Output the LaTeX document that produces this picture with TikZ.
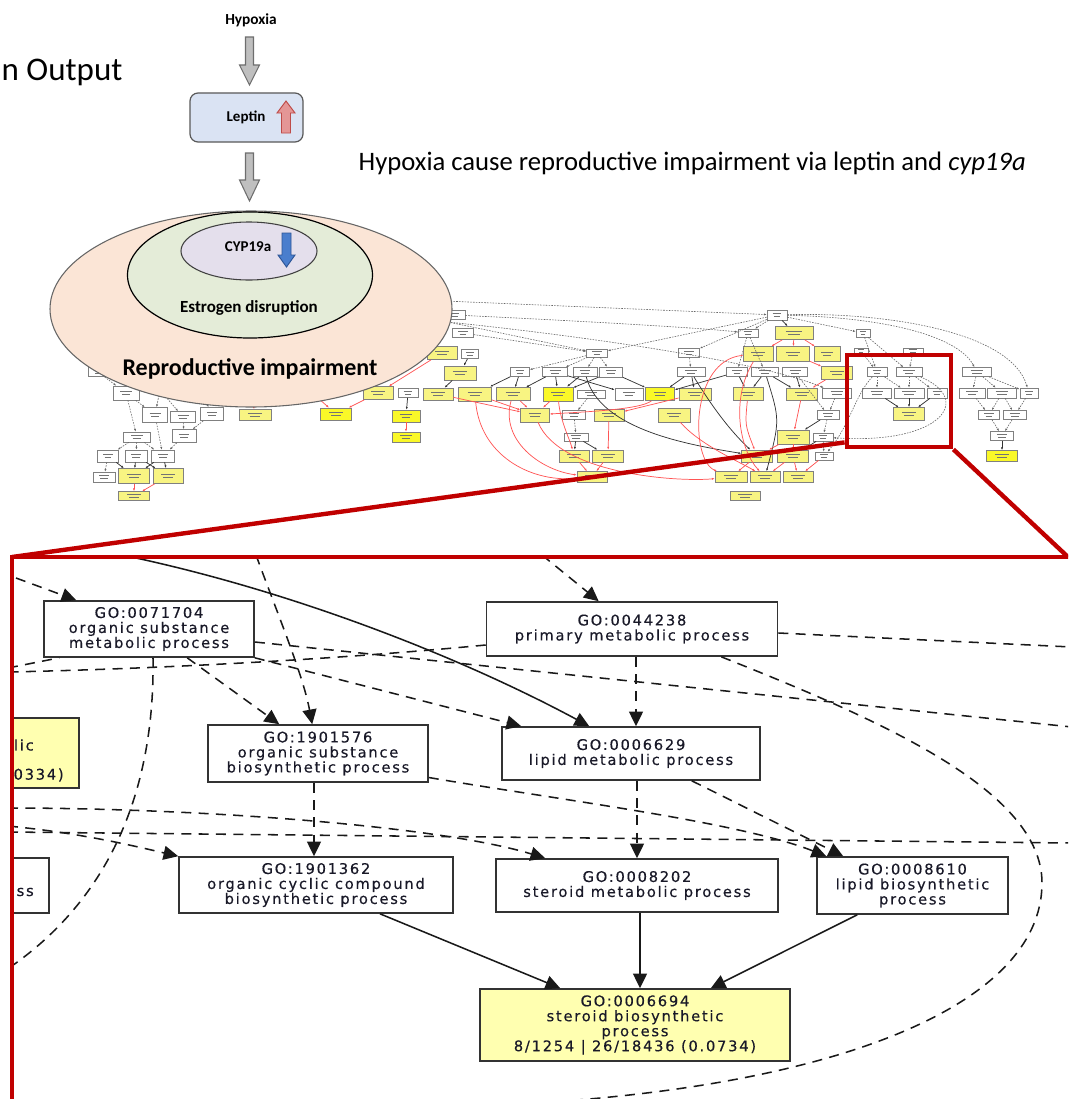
\documentclass[tikz,border=0pt]{standalone}
\usepackage{fontspec}
\setmainfont{Carlito}
\newfontfamily\gofont[LetterSpace=12,FakeBold=0.35]{DejaVu Sans}
\usetikzlibrary{arrows.meta,shapes.geometric,calc}
\definecolor{tyel}{RGB}{248,244,130}
\definecolor{tyel2}{RGB}{250,248,40}
\definecolor{goyel}{RGB}{255,255,176}
\definecolor{gotxt}{RGB}{25,25,40}
\definecolor{boxred}{RGB}{192,0,0}
\definecolor{tredc}{RGB}{255,85,85}
\definecolor{peach}{RGB}{251,229,214}
\definecolor{sage}{RGB}{228,236,216}
\definecolor{lav}{RGB}{228,223,236}
\definecolor{lepfill}{RGB}{218,227,243}
\definecolor{garfill}{RGB}{191,191,191}
\definecolor{garline}{RGB}{110,110,110}
\definecolor{upfill}{RGB}{228,150,150}
\definecolor{upline}{RGB}{190,75,72}
\definecolor{dnfill}{RGB}{74,126,205}
\definecolor{dnline}{RGB}{45,85,150}
\begin{document}
\begin{tikzpicture}[x=0.75pt,y=-0.75pt,
  tbox/.style={draw=black!50, line width=0.55pt, fill=#1, inner sep=0pt, align=center, font=\fontsize{2}{2.4}\selectfont},
  ttip/.style={-{Latex[length=2pt,width=1.6pt]}},
  tdot/.style={draw=black!60, line width=0.45pt, dash pattern=on 1.2pt off 0.9pt, ttip},
  tblk/.style={draw=black!80, line width=0.55pt, ttip},
  tred/.style={draw=tredc, line width=0.55pt, ttip},
  gobox/.style={draw=black!80, line width=1.2pt, fill=#1, inner sep=0pt, align=center, text=gotxt, font=\gofont\fontsize{11}{11.25}\selectfont},
  gotext/.style={text=gotxt, font=\gofont\fontsize{11}{11.25}\selectfont, inner sep=0pt},
  goline/.style={draw=black!90, line width=1.15pt},
  godash/.style={goline, dash pattern=on 7.5pt off 5.5pt},
  goarr/.style={-{Triangle[length=11pt,width=10.5pt]}},
  redframe/.style={draw=boxred, line width=3.3pt, line join=miter},
  garrow/.style={fill=garfill, draw=garline, line width=0.8pt},
  bigell/.style={ellipse, inner sep=0pt}
]
\useasboundingbox (0,0) rectangle (1068,1099);
\clip (0,0) rectangle (1068,1099);

% ---------------- thumbnail GO graph ----------------
\foreach \x/\y/\w/\h/\c [count=\i] in {
 98/372/20/9/white, 126/393/26/14/white, 155/415/25/15/white, 183/417/25/11/white, 212/414/23/13/white,
 255/415/32/11/tyel, 336/414/31/12/tyel2, 378/393/30/13/tyel, 408/393/20/9/white, 406/416/28/12/tyel2,
 406/437/28/10/tyel2, 137/437/27/10/white, 184/436/24/13/white, 108/456/21/12/white, 136/456/22/12/white,
 163/456/23/12/white, 104/477/22/10/white, 134/476/31/15/tyel, 168/476/30/15/tyel, 134/496/31/9/tyel,
 455/315/20/9/white, 463/333/21/9/white, 442/353/30/13/tyel, 470/354/17/9/white, 460/373/32/14/tyel,
 438/394/30/12/tyel, 475/394/33/14/tyel, 513/394/34/13/tyel, 558/394/30/14/tyel2, 591/394/28/8/white,
 629/394/28/12/white, 660/394/29/13/tyel2, 695/394/32/12/tyel, 748/394/30/13/tyel, 802/394/31/12/tyel,
 837/393/29/10/white, 520/372/19/9/white, 555/372/25/9/white, 585/372/24/9/white, 611/372/23/10/white,
 691/372/28/9/white, 737/372/21/9/white, 765/372/27/9/white, 795/372/25/9/white, 837/373/31/13/tyel,
 597/353/21/8/white, 689/353/21/9/white, 758/354/30/15/tyel, 793/354/33/15/tyel, 827/354/26/15/tyel,
 748/333/20/8/white, 794/333/38/13/tyel, 863/333/14/8/white, 777/315/20/10/white, 535/415/29/14/tyel,
 574/415/23/9/white, 609/415/30/12/tyel, 674/415/32/14/tyel, 828/415/22/9/white, 576/437/24/8/white,
 793/437/32/14/tyel, 823/437/20/8/white, 574/456/30/12/tyel, 608/456/31/12/tyel, 757/456/31/12/tyel,
 793/456/31/12/tyel, 824/456/18/8/white, 592/477/30/11/tyel, 731/477/32/11/tyel, 765/477/30/11/tyel,
 798/477/30/11/tyel, 745/496/30/9/tyel, 861/351/14/5/white, 913/351/20/5/white, 877/372/20/9/white,
 909/372/26/9/white, 877/393/29/10/white, 909/393/30/10/white, 937/393/20/10/white, 909/414/31/13/tyel,
 977/372/29/9/white, 972/393/26/10/white, 1002/393/29/10/white, 1029/393/18/10/white, 989/415/21/9/white,
 1015/415/23/9/white, 1002/436/23/9/white, 1002/456/31/11/tyel2}
{
 \node[tbox=\c, minimum width=\w*0.75pt, minimum height=\h*0.75pt] (t\i) at (\x,\y)
   {\textcolor{black!55}{\rule{\w\dimexpr0.33pt\relax}{0.8pt}}\\\textcolor{black!55}{\rule{\w\dimexpr0.24pt\relax}{0.8pt}}};
}
\coordinate (cT1) at (445,301);
\coordinate (cT2) at (448,322);
\coordinate (cT5) at (160,390);
\coordinate (cT6) at (205,400);
\coordinate (cT7) at (318,398);
\coordinate (cT8) at (253,402);

\foreach \a/\b in {54/46,54/47,54/51,54/53,47/41,51/42,51/43,46/37,46/38,46/39,46/40,22/46,
  53/75,53/76,73/75,74/76,75/77,75/78,76/78,76/79,81/82,81/83,81/84,82/85,83/85,83/86,84/86,85/87,86/87,
  30/56,56/60,44/59,59/62,62/67,1/2,2/3,2/12,3/16,4/13,5/13,12/14,12/15,12/16,13/16,14/17,36/59}
  \draw[tdot] (t\a) -- (t\b);
\draw[tdot] (cT1) -- (t54);
\draw[tdot] (cT2) -- (t46);
\draw[tdot] (cT5) -- (t3);
\draw[tdot] (cT5) -- (t4);
\draw[tdot] (cT6) -- (t5);
\draw[tdot] (t54) .. controls (900,318) and (960,340) .. (t81);
\draw[tdot] (t54) .. controls (880,312) and (1010,330) .. (t84);
\draw[tdot] (t21) .. controls (600,322) and (700,328) .. (t51);
\draw[tdot] (cT2) .. controls (600,338) and (760,362) .. (t36);
\draw[tdot] (t76) .. controls (975,400) and (940,445) .. (t62);
\draw[tdot] (t75) .. controls (855,395) and (850,425) .. (t67);

\foreach \a/\b in {54/52,24/25,25/26,37/27,37/28,38/28,38/29,39/29,40/29,40/32,41/33,41/32,42/34,43/34,43/35,44/35,
  60/63,60/64,59/61,62/66,77/80,78/80,79/80,87/88,14/18,15/18,16/18,16/19,15/19,9/10,38/31,42/32}
  \draw[tblk] (t\a) -- (t\b);
\draw[tblk] (t39) .. controls (600,430) and (690,445) .. (t65);
\draw[tblk] (t43) .. controls (780,420) .. (t70);
\draw[tblk] (t41) .. controls (720,420) and (740,440) .. (t65);

\foreach \a/\b in {52/48,52/49,52/50,49/45,45/35,35/61,23/8,8/7,10/11,26/55,27/55,28/55,29/55,33/57,57/64,
  63/68,64/68,61/65,61/66,65/69,66/70,66/71,67/71,18/20,19/20}
  \draw[tred] (t\a) -- (t\b);
\draw[tred] (cT7) -- (t7);
\draw[tred] (cT8) -- (t6);
\draw[tred] (t29) .. controls (560,420) and (570,440) .. (t63);
\draw[tred] (t28) .. controls (500,440) and (540,470) .. (t68);
\draw[tred] (t27) .. controls (480,455) and (530,482) .. (t68);
\draw[tred] (t55) .. controls (560,475) and (680,482) .. (t69);
\draw[tred] (t48) .. controls (690,360) and (690,460) .. (t69);
\draw[tred] (t48) .. controls (730,400) and (740,450) .. (t70);
\draw[tred] (t32) .. controls (640,410) and (580,412) .. (t55);
\draw[tred] (t58) .. controls (700,445) and (740,462) .. (t70);
\draw[tred] (t34) .. controls (745,425) .. (t65);

% ---------------- ellipses ----------------
\node[bigell, draw=black!60, line width=0.8pt, fill=peach, minimum width=402*0.75pt, minimum height=196*0.75pt] (repro) at (251,309) {};
\node[bigell, draw=black, line width=0.9pt, fill=sage, minimum width=245*0.75pt, minimum height=126*0.75pt] (estro) at (250,275) {};
\node[bigell, draw=black!75, line width=0.8pt, fill=lav, minimum width=136*0.75pt, minimum height=58*0.75pt] (cyp) at (249,251) {};
\node[anchor=base, font=\bfseries\fontsize{11.25}{13}\selectfont] (cyptxt) at (248,251) {CYP19a};
\node[anchor=base, font=\bfseries\fontsize{12.75}{14}\selectfont] (estrotxt) at (249,312) {Estrogen disruption};
\node[anchor=base, font=\bfseries\fontsize{18}{20}\selectfont] (reprotxt) at (250,375) {Reproductive impairment};
\filldraw[fill=dnfill, draw=dnline, line width=0.7pt] (282,233) -- (291,233) -- (291,255) -- (295,255) -- (286.5,267) -- (278,255) -- (282,255) -- cycle;

% ---------------- top part ----------------
\node[anchor=base west, font=\fontsize{24.75}{28}\selectfont] (title) at (-3,80) {n Output};
\node[anchor=base, font=\bfseries\fontsize{11.5}{13}\selectfont] (hyp) at (251,25) {Hypoxia};
\node[draw=black!65, line width=0.9pt, fill=lepfill, rounded corners=6pt, minimum width=113*0.75pt, minimum height=49*0.75pt, inner sep=0pt] (lep) at (246.5,117.5) {};
\node[anchor=base, font=\bfseries\fontsize{11.25}{13}\selectfont] (leptxt) at (246,122) {Leptin};
\filldraw[fill=upfill, draw=upline, line width=0.7pt] (281.5,133) -- (281.5,113) -- (277,113) -- (286,101) -- (295,113) -- (290.5,113) -- (290.5,133) -- cycle;
\filldraw[garrow] (245.5,37) -- (253.5,37) -- (253.5,65) -- (259.5,65) -- (249.5,85) -- (239.5,65) -- (245.5,65) -- cycle;
\filldraw[garrow] (245.5,153) -- (253.5,153) -- (253.5,180) -- (259.5,180) -- (249.5,201) -- (239.5,180) -- (245.5,180) -- cycle;
\node[anchor=base west, font=\fontsize{20}{24}\selectfont] (caption) at (354,170) {Hypoxia cause reproductive impairment via leptin and \textit{cyp19a}};

% ---------------- zoomed GO view ----------------
\begin{scope}
\clip (12,557) rectangle (1068,1099);
\node[gobox=goyel, minimum width=78*0.75pt, minimum height=70*0.75pt] (nyel) at (40,753) {};
\node[gotext, anchor=east] (nyelA) at (34,745) {lic};
\node[gotext, anchor=east] (nyelB) at (64,775) {0334)};
\node[gobox=white, minimum width=48*0.75pt, minimum height=55*0.75pt] (nss) at (25,885.5) {};
\node[gotext, anchor=east] (nssA) at (34,892) {ss};
\node[gobox=white, minimum width=210*0.75pt, minimum height=56*0.75pt] (n71704) at (149,629) {GO:0071704\\organic substance\\metabolic process};
\node[gobox=white, minimum width=291*0.75pt, minimum height=54*0.75pt] (n44238) at (632,629) {GO:0044238\\primary metabolic process};
\node[gobox=white, minimum width=220*0.75pt, minimum height=57*0.75pt] (n01576) at (318,753.5) {GO:1901576\\organic substance\\biosynthetic process};
\node[gobox=white, minimum width=258*0.75pt, minimum height=53*0.75pt] (n06629) at (631,753.5) {GO:0006629\\lipid metabolic process};
\node[gobox=white, minimum width=274*0.75pt, minimum height=56*0.75pt] (n01362) at (316,885) {GO:1901362\\organic cyclic compound\\biosynthetic process};
\node[gobox=white, minimum width=282*0.75pt, minimum height=53*0.75pt] (n08202) at (637,885.5) {GO:0008202\\steroid metabolic process};
\node[gobox=white, minimum width=191*0.75pt, minimum height=57*0.75pt] (n08610) at (912.5,885.5) {GO:0008610\\lipid biosynthetic\\process};
\node[gobox=goyel, minimum width=310*0.75pt, minimum height=72*0.75pt] (n06694) at (635,1025) {GO:0006694\\steroid biosynthetic\\process\\8/1254 | 26/18436 (0.0734)};

\coordinate (cA) at (16,578);
\coordinate (cB) at (122,555);
\coordinate (cC) at (256,555);
\coordinate (cD) at (542,555);
\coordinate (cE) at (1072,727);
\coordinate (cF) at (8,672);
\coordinate (cG) at (8,668);
\coordinate (cH) at (1072,647);
\coordinate (cI) at (8,808);
\coordinate (cJ) at (8,826);
\coordinate (cK) at (8,832);
\coordinate (cL) at (1072,843);
\coordinate (cM) at (470,1106);
\coordinate (cN) at (6,970);

\draw[godash,goarr] (cA) -- ($(n71704.north west)+(33,0)$);
\draw[goline,goarr] (cB) .. controls (300,592) and (470,662) .. ($(n06629.north west)+(88,0)$);
\draw[godash,goarr] (cC) .. controls (278,615) and (303,675) .. ($(n01576.north west)+(105,0)$);
\draw[godash,goarr] (cD) -- ($(n44238.north west)+(113,0)$);
\draw[godash,goarr] ($(n71704.south west)+(144,0)$) -- ($(n01576.north west)+(72,0)$);
\draw[godash,goarr] (n71704.south east) -- ($(n06629.north west)+(20,0)$);
\draw[godash] ($(n71704.east)+(0,13)$) -- (cE);
\draw[godash] ($(n44238.west)+(0,16)$) .. controls (330,660) and (150,669) .. (cF);
\draw[godash] (cG) -- ($(n71704.south west)+(16,0)$);
\draw[godash] ($(n44238.east)+(0,4)$) -- (cH);
\draw[godash,goarr] ($(n44238.south)+(4,0)$) -- ($(n06629.north)+(5,0)$);
\draw[godash,goarr] ($(n01576.south)+(-4,0)$) -- ($(n01362.north)+(-2,0)$);
\draw[godash,goarr] ($(n06629.south)+(6,0)$) -- ($(n08202.north)+(0,0)$);
\draw[godash,goarr] ($(n01576.east)+(0,24)$) .. controls (560,800) and (740,822) .. ($(n08610.north west)+(10,0)$);
\draw[godash,goarr] ($(n06629.south east)+(-69,0)$) -- ($(n08610.north west)+(27,0)$);
\draw[godash,goarr] (cI) .. controls (200,808) and (440,826) .. ($(n08202.north west)+(50,0)$);
\draw[godash,goarr] (cJ) .. controls (80,833) and (130,845) .. (n01362.north west);
\draw[godash] (cK) -- (cL);
\draw[godash] ($(n44238.south east)+(-57,0)$) .. controls (880,720) and (1042,790) .. (1042,883) .. controls (1042,1010) and (820,1095) .. (cM);
\draw[godash] ($(n71704.south)+(4,0)$) .. controls (155,790) and (110,900) .. (cN);
\draw[goline,goarr] ($(n01362.south)+(64,0)$) -- ($(n06694.north west)+(81,0)$);
\draw[goline,goarr] ($(n08202.south)+(3,0)$) -- ($(n06694.north)+(5,0)$);
\draw[goline,goarr] ($(n08610.south west)+(41,0)$) -- ($(n06694.north east)+(-80,0)$);
\end{scope}

% ---------------- red zoom frame ----------------
\node[draw=boxred, line width=3.6pt, minimum width=104*0.75pt, minimum height=92*0.75pt, inner sep=0pt] (zoomsrc) at (899,401) {};
\coordinate (fTL) at (12,557);
\coordinate (fTR) at (1068,557);
\coordinate (fBL) at (12,1110);
\coordinate (fTRx) at (1080,557);
\draw[redframe] (fBL) -- (fTL) -- (fTRx);
\draw[redframe] ($(zoomsrc.south west)+(0,-7)$) -- (fTL);
\draw[redframe] (zoomsrc.south east) -- (fTR);
\end{tikzpicture}
\end{document}
